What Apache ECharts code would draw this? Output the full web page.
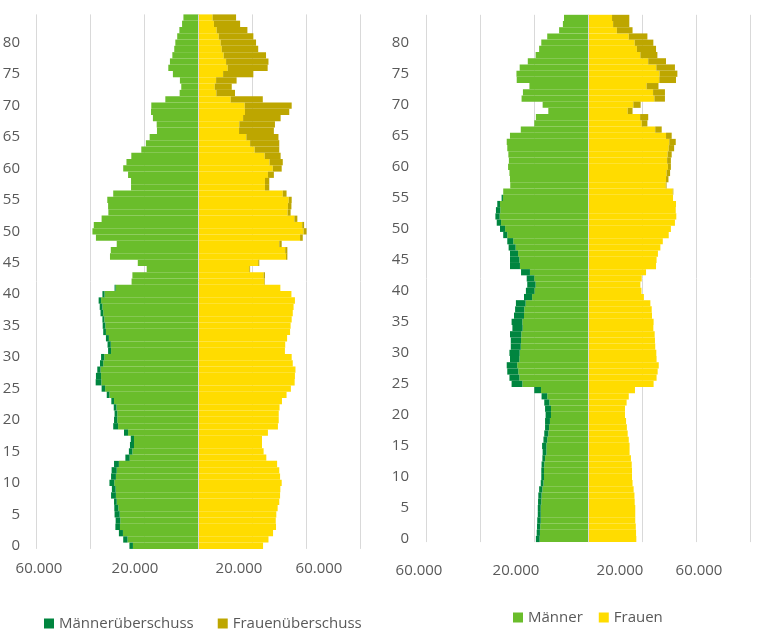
<!DOCTYPE html>
<html>
<head>
<meta charset="UTF-8">
<title>Bevölkerungspyramiden</title>
<script src="https://cdn.jsdelivr.net/npm/echarts@6/dist/echarts.min.js"></script>
<style>
body{
margin:0;
background:#fff;
}
#chart{
width:780px;
height:639px;
}
</style>
</head>
<body>

<div id="chart"></div>

<script>

// Altersjahre 0 bis 84
const ages = [
 0,1,2,3,4,5,6,7,8,9,10,11,12,13,14,15,16,17,18,19,
 20,21,22,23,24,25,26,27,28,29,30,31,32,33,34,35,36,37,38,39,
 40,41,42,43,44,45,46,47,48,49,50,51,52,53,54,55,56,57,58,59,
 60,61,62,63,64,65,66,67,68,69,70,71,72,73,74,75,76,77,78,79,
 80,81,82,83,84
]

// linke Pyramide
const menLeft = [
 25400,27700,29300,30600,30500,30900,31000,31100,32200,31900,
 32800,32200,32000,31100,26900,25600,25200,24900,27400,31400,
 31100,30900,31200,32100,33800,35700,37900,37800,37300,36300,
 35900,33300,33500,34100,35100,35300,35400,36100,36400,36800,
 35400,30900,24600,24300,19000,22300,32600,32300,30100,37800,
 39100,38600,35700,33200,33300,33600,31400,24800,24800,25900,
 27700,26500,24700,21000,19300,17900,15200,15300,16700,17400,
 17300,12100,6800,6200,6700,9300,11000,10400,9500,8800,
 8400,7700,6900,5900,5400
]

const womenLeft = [
 24100,26100,27800,28900,28800,29000,29500,30100,30400,30500,
 31000,30400,30100,29300,25300,24300,23700,23700,25900,29600,
 29900,29900,30200,31100,32800,34400,35800,35900,36100,35100,
 34700,32200,32300,33000,34100,34300,34700,35100,35400,35900,
 34600,30500,24800,24800,19300,22700,33100,33100,31000,38800,
 40200,39300,36800,34300,34600,34700,32800,26400,26400,28100,
 31000,31400,30600,30100,30100,29800,28100,28500,30600,33800,
 34700,24000,13700,12500,14300,20500,25800,26100,25200,22300,
 21500,20500,18300,15600,14100
]

// rechte Pyramide
const menRight = [
 19300,19000,18900,18800,18600,18600,18500,18400,18100,17500,
 17300,17300,17200,16900,16800,17000,16500,16200,15900,15900,
 15700,15900,16200,17200,19900,28300,29100,29900,30100,28900,
 29100,28600,28600,28900,28000,28300,27400,27000,26700,23700,
 23000,22500,22700,24800,28900,28900,28900,29400,29900,31400,
 32600,33800,34300,34100,33600,32000,31400,28800,28900,29100,
 29600,29300,29500,29900,30100,28900,24900,19900,19300,14700,
 16800,24600,24100,21700,26400,26500,25300,22300,19400,18100,
 17300,15100,10700,9300,8900
]

const womenRight = [
 17900,17800,17700,17500,17500,17500,17300,17200,16900,16500,
 16300,16300,16200,15900,15400,15400,15100,14700,14400,14100,
 13700,13700,14300,15100,17400,24300,25400,25800,26200,25400,
 25300,24900,24800,24700,24200,24300,23700,23600,23100,20700,
 19800,19400,19900,21500,25200,25400,25900,26800,27700,29900,
 30700,32200,32700,32500,32600,31500,31600,29100,29800,30400,
 30700,30700,31000,31900,32500,31000,27300,22000,22300,16500,
 19500,28500,28500,26100,32600,33100,32200,28900,25700,25200,
 24200,22000,16500,15300,15300
]

const xLabels = ["60.000","20.000","20.000","60.000"]
const xLabelPosLeft = [39,135,239,319]
const xLabelPosRight = [419,516,620,699]

const green = "#6abd2b"
const darkGreen = "#00853f"
const yellow = "#ffdc00"
const olive = "#bda600"
const gray = "#595959"
const font = "Open Sans"
const fontSize = 15

function base(m,f){
 return m.map((v,i)=>Math.min(v,f[i]))
}

function pyramidSeries(m,f,idx){

 const b = base(m,f)

 return [
  {
   name:"Männer",
   type:"bar",
   xAxisIndex:idx,
   yAxisIndex:idx,
   stack:"p"+idx,
   barCategoryGap:"0%",
   itemStyle:{ color:green },
   data:b.map(v=>-v),
   markLine:{
    silent:true,
    symbol:"none",
    label:{ show:false },
    lineStyle:{ color:"#d9d9d9", width:1, type:"solid" },
    data:[{ xAxis:0 }],
    z:10
   }
  },
  {
   name:"Männerüberschuss",
   type:"bar",
   xAxisIndex:idx,
   yAxisIndex:idx,
   stack:"p"+idx,
   barCategoryGap:"0%",
   itemStyle:{ color:darkGreen },
   data:m.map((v,i)=>-(v-b[i]))
  },
  {
   name:"Frauen",
   type:"bar",
   xAxisIndex:idx,
   yAxisIndex:idx,
   stack:"p"+idx,
   barCategoryGap:"0%",
   itemStyle:{ color:yellow },
   data:b
  },
  {
   name:"Frauenüberschuss",
   type:"bar",
   xAxisIndex:idx,
   yAxisIndex:idx,
   stack:"p"+idx,
   barCategoryGap:"0%",
   itemStyle:{ color:olive },
   data:f.map((v,i)=>v-b[i])
  }
 ]

}

function xAxis(idx){
 return {
  type:"value",
  gridIndex:idx,
  min:-60000,
  max:60000,
  interval:20000,
  axisLabel:{ show:false },
  axisLine:{ show:false },
  axisTick:{ show:false },
  splitLine:{ lineStyle:{ color:"#d9d9d9", width:1 } }
 }
}

function yAxis(idx){
 return {
  type:"category",
  gridIndex:idx,
  data:ages,
  axisLine:{ show:false, onZero:false },
  axisTick:{ show:false },
  axisLabel:{
   interval:4,
   margin:idx===0 ? 16 : 17,
   color:gray,
   fontSize:fontSize,
   fontFamily:font
  },
  splitLine:{ show:false }
 }
}

function labelTexts(pos,y){
 return pos.map((x,i)=>({
  type:"text",
  x:x,
  y:y,
  style:{
   text:xLabels[i],
   fill:gray,
   font:fontSize+"px '"+font+"'",
   textAlign:"center",
   textVerticalAlign:"middle"
  }
 }))
}

const chart = echarts.init(document.getElementById("chart"))

chart.setOption({

 animation:false,

 grid:[
  { left:36, width:324, top:14.4, height:534.5, outerBoundsMode:"none" },
  { left:426, width:324, top:14.8, height:527.3, outerBoundsMode:"none" }
 ],

 xAxis:[ xAxis(0), xAxis(1) ],

 yAxis:[ yAxis(0), yAxis(1) ],

 legend:[
  {
   data:["Männerüberschuss","Frauenüberschuss"],
   left:44,
   top:616,
   padding:0,
   icon:"rect",
   itemWidth:10,
   itemHeight:10,
   itemGap:24,
   textStyle:{ color:gray, fontSize:fontSize, fontFamily:font },
   selectedMode:false
  },
  {
   data:["Männer","Frauen"],
   left:513,
   top:610,
   padding:0,
   icon:"rect",
   itemWidth:10,
   itemHeight:10,
   itemGap:16,
   textStyle:{ color:gray, fontSize:fontSize, fontFamily:font },
   selectedMode:false
  }
 ],

 graphic:[
  ...labelTexts(xLabelPosLeft,569),
  ...labelTexts(xLabelPosRight,571)
 ],

 series:[
  ...pyramidSeries(menLeft,womenLeft,0),
  ...pyramidSeries(menRight,womenRight,1)
 ]

})

</script>

</body>
</html>
